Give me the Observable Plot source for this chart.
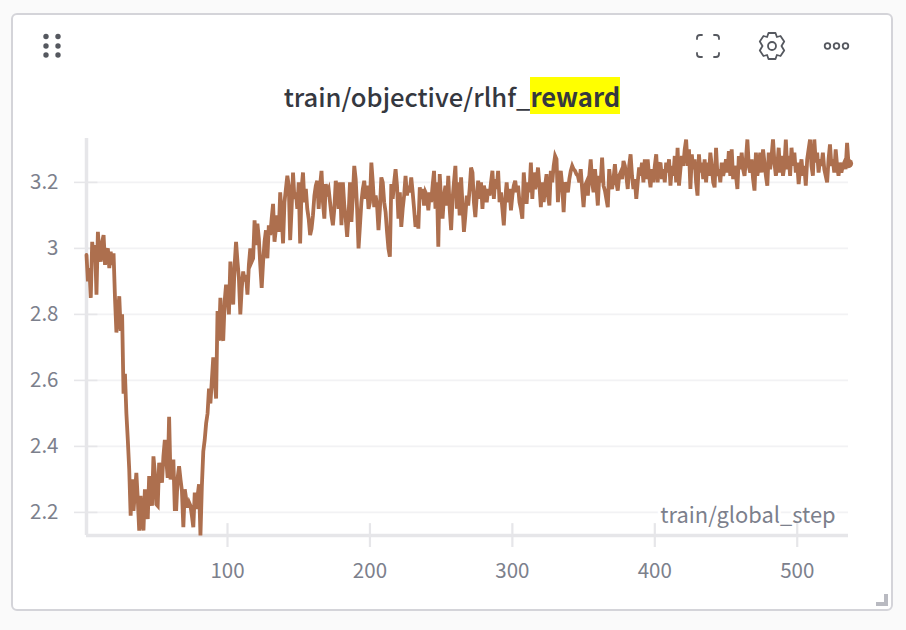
<!DOCTYPE html>
<html>
<head>
<meta charset="utf-8">
<script src="https://cdn.jsdelivr.net/npm/d3@7"></script>
<script src="https://cdn.jsdelivr.net/npm/@observablehq/plot@0.6"></script>
<style>
  html, body { margin: 0; padding: 0; background: #fafafa; width: 906px; height: 630px; overflow: hidden; }
  body { font-family: "Noto Sans CJK SC", "Noto Sans", sans-serif; position: relative; }
  #card { position: absolute; left: 11px; top: 13px; width: 878px; height: 594px; border: 2px solid #d4d4d9; border-radius: 6px; background: #fff; }
  #title { position: absolute; left: 0; top: 78px; width: 906px; text-align: center; padding-right: 2px; box-sizing: border-box; font-size: 25.6px; font-weight: 500; line-height: 36px; color: #35383f; white-space: nowrap; }
  #title mark { background: #ffff00; color: inherit; font-weight: 700; }
  #icons { position: absolute; left: 0; top: 0; }
  #chart { position: absolute; left: 0; top: 130px; }
  #chart svg { background: transparent; display: block; }
</style>
</head>
<body>
<div id="card"></div>
<svg id="icons" width="906" height="130" fill="none" stroke="#55585f">
  <g fill="#55585f" stroke="none">
    <circle cx="46" cy="36.5" r="2.7"/><circle cx="58" cy="36.5" r="2.7"/>
    <circle cx="46" cy="46" r="2.7"/><circle cx="58" cy="46" r="2.7"/>
    <circle cx="46" cy="55" r="2.7"/><circle cx="58" cy="55" r="2.7"/>
  </g>
  <g stroke-width="1.8" stroke-linecap="round" stroke-linejoin="round">
    <path d="M697 39v-1a3 3 0 0 1 3-3h2M714 35h2a3 3 0 0 1 3 3v1M719 53v1a3 3 0 0 1-3 3h-2M702 57h-2a3 3 0 0 1-3-3v-1"/>
    <path d="M768.5 33h7l1.4 4 3.6-1 3.7 5.5-2.7 4.5 2.7 4.5-3.7 5.5-3.6-1-1.4 4h-7l-1.4-4-3.6 1-3.7-5.5 2.7-4.5-2.7-4.5 3.7-5.5 3.6 1z"/>
    <circle cx="772" cy="46" r="4"/>
    <circle cx="827.5" cy="46" r="2.8"/><circle cx="836.5" cy="46" r="2.8"/><circle cx="845.5" cy="46" r="2.8"/>
  </g>
</svg>
<div id="title">train/objective/rlhf_<mark>reward</mark></div>
<div id="chart"></div>
<svg style="position:absolute;left:0;top:590px" width="906" height="20"><path d="M876 12h8v-8h4v12h-12z" fill="#b9bac1"/></svg>
<script>
const rewardStart = [
  2.98,2.90,2.94,2.85,3.02,2.96,3.01,2.86,3.05,2.98,2.96,3.02,3.04,2.95,2.99,3.00,2.94,2.99,2.95,2.985,
  2.85,2.745,2.80,2.855,2.75,2.80,2.56,2.62,2.50,2.42,2.33,2.19,2.30,2.205,2.26,2.32,2.24,2.145,2.25,2.17,
  2.145,2.27,2.22,2.18,2.31,2.28,2.22,2.37,2.32,2.225,2.22,2.35,2.33,2.29,2.37,2.42,2.36,2.305,2.49,2.30,
  2.33,2.36,2.21,2.21,2.305,2.34,2.30,2.265,2.155,2.27,2.24,2.215,2.23,2.22,2.19,2.155,2.26,2.21,2.25,2.285,
  2.13,2.28,2.385,2.42,2.47,2.50,2.575,2.53,2.60,2.67,2.60,2.545,2.81,2.72,2.85,2.74,2.72,2.84,2.89,2.85,
  2.80,2.96,2.88,2.83,2.95,3.02,2.96,2.91,2.80,2.88,2.93,2.90,2.92,2.86,2.95,3.00,2.96,2.97,3.085,3.01,
  3.075,3.03,2.95,2.88,2.96,3.02,3.055,2.97,3.07,3.04,3.09,3.135,3.02,3.06,3.10,3.05,3.17,3.10,3.015,3.14,
  3.18,3.22,3.19,3.025,3.12,3.23,3.15,3.17,3.12,3.20,3.015,3.18,3.23,3.14,3.18,3.12,3.09,3.04,3.06,3.10,
  3.16,3.19,3.205,3.12,3.19,3.235,3.14,3.09,3.195
];
const rewardMiddle = [
  3.17,3.18,3.14,3.10,3.07,3.12,3.205,3.18,3.12,3.20,3.07,3.20,3.13,3.09,3.035,3.10,3.20,3.08,3.16,3.25,
  3.21,3.12,3.00,3.07,3.14,3.18,3.205,3.15,3.19,3.12,3.14,3.26,3.20,3.125,3.16,3.13,3.055,3.12,3.215,3.20,
  3.14,3.11,3.05,3.00,2.975,3.195,3.15,3.20,3.24,3.19,3.09,3.17,3.065,3.12,3.16,3.22,3.16,3.19,3.17,3.215,
  3.17,3.12,3.065,3.10,3.06,3.185,3.15,3.18,3.13,3.17,3.16,3.115,3.17,3.14,3.19,3.235,3.12,3.20,3.005,3.225,
  3.14,3.09,3.16,3.19,3.13,3.22,3.12,3.055,3.15,3.20,3.25,3.12,3.20,3.10,3.215,3.13,3.05,3.10,3.16,3.13,
  3.18,3.245,3.23,3.14,3.095,3.16,3.205,3.15,3.20,3.12,3.19,3.17,3.14,3.18,3.16,3.20,3.235,3.15,3.21,3.18,
  3.235,3.14,3.17,3.12,3.07,3.15,3.20,3.14,3.18,3.115,3.16,3.19,3.205,3.17,3.19,3.14,3.12,3.09,3.23,3.17,
  3.135,3.20,3.17,3.26,3.15,3.23,3.18,3.20,3.245,3.19,3.125,3.20,3.14,3.19,3.225,3.16,3.13
];
const rewardEnd = [
  3.235,3.20,3.25,3.28,3.27,3.14,3.20,3.235,3.19,3.11,3.20,3.19,3.17,3.21,3.235,3.25,3.24,3.235,3.225,3.22,
  3.20,3.24,3.18,3.125,3.19,3.20,3.16,3.22,3.27,3.20,3.17,3.24,3.19,3.13,3.22,3.20,3.275,3.19,3.175,3.15,
  3.125,3.24,3.20,3.18,3.21,3.255,3.20,3.175,3.22,3.23,3.21,3.265,3.25,3.22,3.18,3.25,3.285,3.22,3.18,3.21,
  3.15,3.20,3.245,3.22,3.26,3.20,3.27,3.21,3.27,3.22,3.185,3.24,3.20,3.25,3.285,3.20,3.25,3.26,3.21,3.24,
  3.20,3.26,3.23,3.27,3.19,3.25,3.22,3.28,3.20,3.305,3.19,3.24,3.28,3.25,3.30,3.33,3.25,3.30,3.18,3.285,
  3.24,3.27,3.20,3.16,3.285,3.23,3.26,3.21,3.27,3.20,3.26,3.22,3.29,3.25,3.20,3.185,3.305,3.22,3.24,3.20,
  3.26,3.22,3.24,3.27,3.23,3.295,3.22,3.30,3.21,3.25,3.22,3.18,3.28,3.24,3.29,3.24,3.22,3.27,3.33,3.25,
  3.23,3.27,3.21,3.175,3.29,3.22,3.25,3.29,3.23,3.30,3.26,3.22,3.19,3.29,3.24,3.28,3.33,3.26,3.22,3.25,
  3.305,3.23,3.28,3.22,3.25,3.33,3.24,3.28,3.22,3.305,3.25,3.29,3.23,3.26,3.195,3.24,3.27,3.22,3.25,3.19,
  3.27,3.30,3.33,3.25,3.22,3.33,3.26,3.29,3.23,3.27,3.25,3.29,3.24,3.22,3.20,3.27,3.315,3.25,3.27,3.23,
  3.30,3.25,3.22,3.26,3.23,3.25,3.26,3.24,3.32,3.257
];
const yTicks = [2.2, 2.4, 2.6, 2.8, 3, 3.2];
const xTicks = [100, 200, 300, 400, 500];
const xLabel = "train/global_step";
const seriesColor = "#ad6f4e";

const reward = [...rewardStart, ...rewardMiddle, ...rewardEnd];
const points = reward.map((value, i) => ({step: i + 1, value}));
const last = points[points.length - 1];

const axisColor = "#e6e6e9";
const tickFont = {fontSize: 20.5, fontWeight: 400};

const plot = Plot.plot({
  width: 906,
  height: 480,
  marginLeft: 86,
  marginRight: 58,
  marginTop: 8,
  marginBottom: 75,
  style: {background: "transparent", fontFamily: '"Noto Sans CJK SC", "Noto Sans", sans-serif', overflow: "visible"},
  x: {domain: [1, 536]},
  y: {domain: [2.13, 3.333]},
  marks: [
    Plot.ruleY(yTicks, {stroke: "#f2f2f4", strokeWidth: 1.6}),
    Plot.ruleY(yTicks, {x1: 1, x2: 9, stroke: axisColor, strokeWidth: 1.6}),
    Plot.text([xLabel], {x: [527], y: [2.188], text: d => d, textAnchor: "end", fontSize: 21.9, fill: "#7c808c", stroke: "white", strokeWidth: 6, paintOrder: "stroke"}),
    Plot.ruleX(xTicks, {y1: 2.13, y2: 2.166, stroke: axisColor, strokeWidth: 2.2}),
    Plot.ruleX([1], {stroke: axisColor, strokeWidth: 3.5}),
    Plot.ruleY([2.13], {stroke: axisColor, strokeWidth: 3.5}),
    Plot.axisY({ticks: yTicks, tickFormat: d => String(d), tickSize: 12, tickPadding: 16, stroke: axisColor, strokeWidth: 1.6, ...tickFont, color: "#7c808c", label: null}),
    Plot.axisX({ticks: xTicks, tickFormat: d => String(d), tickSize: 12, tickPadding: 16, stroke: axisColor, strokeWidth: 2.2, ...tickFont, color: "#7c808c", label: null}),
    Plot.lineY(points, {x: "step", y: "value", stroke: seriesColor, strokeWidth: 3.8, strokeLinejoin: "miter", strokeMiterlimit: 4}),
    Plot.dot([last], {x: "step", y: "value", r: 4.6, fill: seriesColor, stroke: "none"})
  ]
});
document.getElementById("chart").appendChild(plot);
</script>
</body>
</html>
